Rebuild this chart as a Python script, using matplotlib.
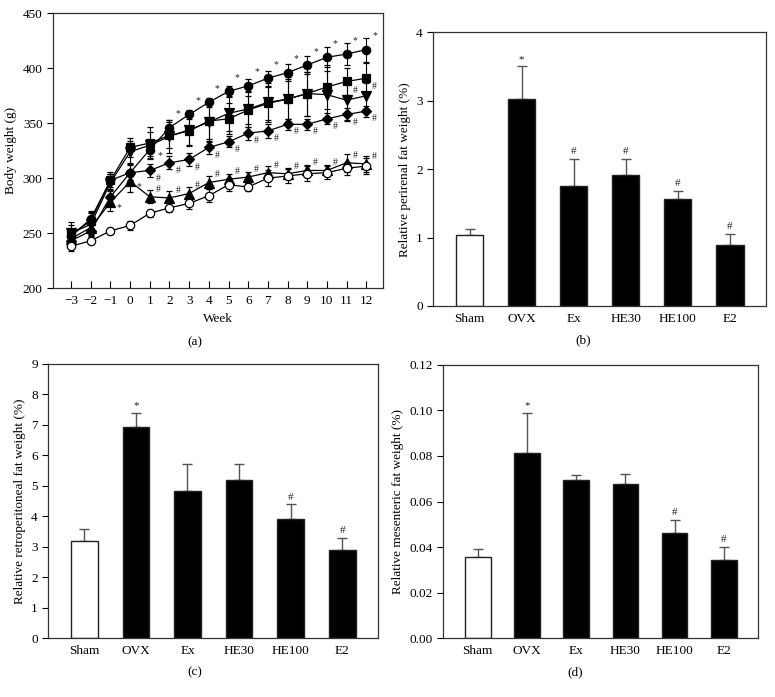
import numpy as np
import matplotlib
matplotlib.use('Agg')
import matplotlib.pyplot as plt

plt.rcParams['font.family'] = ['Liberation Serif', 'DejaVu Serif']
plt.rcParams['font.size'] = 9.5

# panel (a): body weight by week
weeks = list(range(-3, 13))
sham_bw = [238, 243, 252, 257, 268, 273, 277, 284, 294, 292, 300, 302, 304, 305, 309, 311]
ovx_bw = [247, 263, 298, 305, 326, 346, 358, 369, 379, 384, 391, 396, 403, 410, 413, 417]
ex_bw = [249, 261, 298, 328, 332, 339, 343, 352, 354, 362, 368, 372, 377, 383, 388, 391]
he30_bw = [250, 258, 296, 324, 330, 338, 344, 351, 359, 363, 369, 372, 377, 376, 371, 375]
he100_bw = [243, 252, 283, 305, 307, 314, 317, 328, 333, 341, 343, 349, 349, 354, 358, 361]
e2_bw = [245, 255, 278, 297, 283, 282, 286, 296, 299, 301, 305, 304, 307, 307, 314, 313]

sham_err = [4, 3, 3, 4, 3, 4, 5, 6, 6, 4, 7, 6, 7, 6, 6, 7]
ovx_err = [5, 6, 6, 8, 6, 7, 4, 4, 5, 6, 7, 8, 8, 9, 10, 11]
ex_err = [8, 9, 8, 9, 15, 12, 14, 16, 14, 13, 15, 18, 20, 20, 12, 14]
he30_err = [10, 10, 8, 10, 12, 15, 14, 18, 16, 16, 18, 20, 20, 22, 18, 12]
he100_err = [5, 5, 6, 7, 6, 6, 6, 6, 5, 6, 6, 5, 5, 5, 6, 5]
e2_err = [6, 6, 8, 10, 6, 6, 6, 6, 5, 5, 6, 5, 5, 5, 8, 7]

# weeks carrying significance marks
ovx_star_weeks = list(range(2, 13))
ovx_star_side_weeks = [1]
e2_star_weeks = [-1, 0]
he100_hash_weeks = list(range(1, 13))
e2_hash_weeks = list(range(1, 13))
he30_hash_weeks = [11, 12]

# panels (b)-(d): fat weights
groups = ['Sham', 'OVX', 'Ex', 'HE30', 'HE100', 'E2']
perirenal = [1.04, 3.02, 1.76, 1.92, 1.57, 0.89]
perirenal_err = [0.08, 0.48, 0.39, 0.23, 0.115, 0.16]
perirenal_sig = ['', '*', '#', '#', '#', '#']
retro = [3.19, 6.93, 4.82, 5.20, 3.90, 2.90]
retro_err = [0.41, 0.45, 0.89, 0.51, 0.49, 0.39]
retro_sig = ['', '*', '', '', '#', '#']
mesen = [0.0355, 0.0814, 0.0693, 0.0678, 0.0463, 0.0342]
mesen_err = [0.0038, 0.0176, 0.0023, 0.0041, 0.0057, 0.0060]
mesen_sig = ['', '*', '', '', '#', '#']

fig = plt.figure(figsize=(7.75, 6.97), dpi=100)

def style_box(ax):
    for s in ax.spines.values():
        s.set_color('#333333')
        s.set_linewidth(0.9)

# ---- (a)
ax = fig.add_axes([0.0684, 0.5868, 0.426, 0.394])
series = [
    (ovx_bw, ovx_err, 'o', 'black', 6),
    (ex_bw, ex_err, 's', 'black', 6),
    (he30_bw, he30_err, 'v', 'black', 6.5),
    (he100_bw, he100_err, 'D', 'black', 5),
    (e2_bw, e2_err, '^', 'black', 6.5),
    (sham_bw, sham_err, 'o', 'white', 6),
]
for vals, errs, mk, fc, ms in series:
    ax.errorbar(weeks, vals, yerr=errs, color='black', lw=0.9, marker=mk,
                mfc=fc, mec='black', mew=0.9, ms=ms, capsize=2.5, elinewidth=0.8)

def mark(vals, wk_list, sym, dx, dy):
    for w in wk_list:
        v = vals[weeks.index(w)]
        ax.annotate(sym, (w, v), xytext=(dx, dy), textcoords='offset points',
                    ha='center', va='center', fontsize=7, color='#222222')

mark(ovx_bw, ovx_star_weeks, '*', 6, 10)
mark(ovx_bw, ovx_star_side_weeks, '*', 7, -4)
mark(e2_bw, e2_star_weeks, '*', 6, -4)
mark(he100_bw, he100_hash_weeks, '#', 6, -5.5)
mark(e2_bw, e2_hash_weeks, '#', 6, 5.5)
mark(he30_bw, he30_hash_weeks, '#', 6, 7)

ax.set_xlim(-3.92, 12.86)
ax.set_ylim(200, 450)
ax.set_xticks(weeks)
ax.set_xticklabels([str(w).replace('-', '\u2212') for w in weeks])
ax.set_yticks([200, 250, 300, 350, 400, 450])
ax.tick_params(axis='x', direction='in', length=5, pad=5)
ax.tick_params(axis='y', direction='out', length=4)
ax.set_xlabel('Week', labelpad=4)
ax.set_ylabel('Body weight (g)')
style_box(ax)
fig.text(195 / 775, 1 - 342 / 697, '(a)', ha='center', va='center')

# ---- bar panels
def bar_panel(rect, vals, errs, sig, ylim, yticks, ylabel, label, lx, fmt=None):
    ax = fig.add_axes(rect)
    x = np.arange(len(groups))
    ax.errorbar(x, vals, yerr=[np.zeros(len(vals)), errs], fmt='none',
                ecolor='#555555', elinewidth=1.0, capsize=3.5, capthick=1.0, zorder=1)
    ax.bar(x, vals, width=0.52, color=['white'] + ['black'] * 5,
           edgecolor='#222222', linewidth=1.0, zorder=2)
    for xi, v, e, s in zip(x, vals, errs, sig):
        if s:
            ax.annotate(s, (xi, v + e), xytext=(0, 2), textcoords='offset points',
                        ha='center', va='bottom', fontsize=8, color='#222222')
    ax.set_xlim(-0.7, 5.7)
    ax.set_ylim(*ylim)
    ax.set_yticks(yticks)
    if fmt:
        ax.set_yticklabels([fmt % t for t in yticks])
    ax.set_xticks(x)
    ax.set_xticklabels(groups)
    ax.tick_params(axis='x', direction='in', length=5, color='#444444', pad=5)
    ax.tick_params(axis='y', direction='out', length=4)
    ax.set_ylabel(ylabel)
    style_box(ax)
    fig.text(lx[0] / 775, 1 - lx[1] / 697, label, ha='center', va='center')
    return ax

bar_panel([0.559, 0.561, 0.430, 0.3927], perirenal, perirenal_err, perirenal_sig,
          (0, 4), [0, 1, 2, 3, 4], 'Relative perirenal fat weight (%)', '(b)', (583, 340))
bar_panel([0.0623, 0.0842, 0.4258, 0.3936], retro, retro_err, retro_sig,
          (0, 9), list(range(10)), 'Relative retroperitoneal fat weight (%)', '(c)', (195, 672))
bar_panel([0.572, 0.0842, 0.4065, 0.3925], mesen, mesen_err, mesen_sig,
          (0, 0.12), [0, 0.02, 0.04, 0.06, 0.08, 0.10, 0.12],
          'Relative mesenteric fat weight (%)', '(d)', (575, 672), fmt='%.2f')

fig.savefig('out.png', dpi=100)
